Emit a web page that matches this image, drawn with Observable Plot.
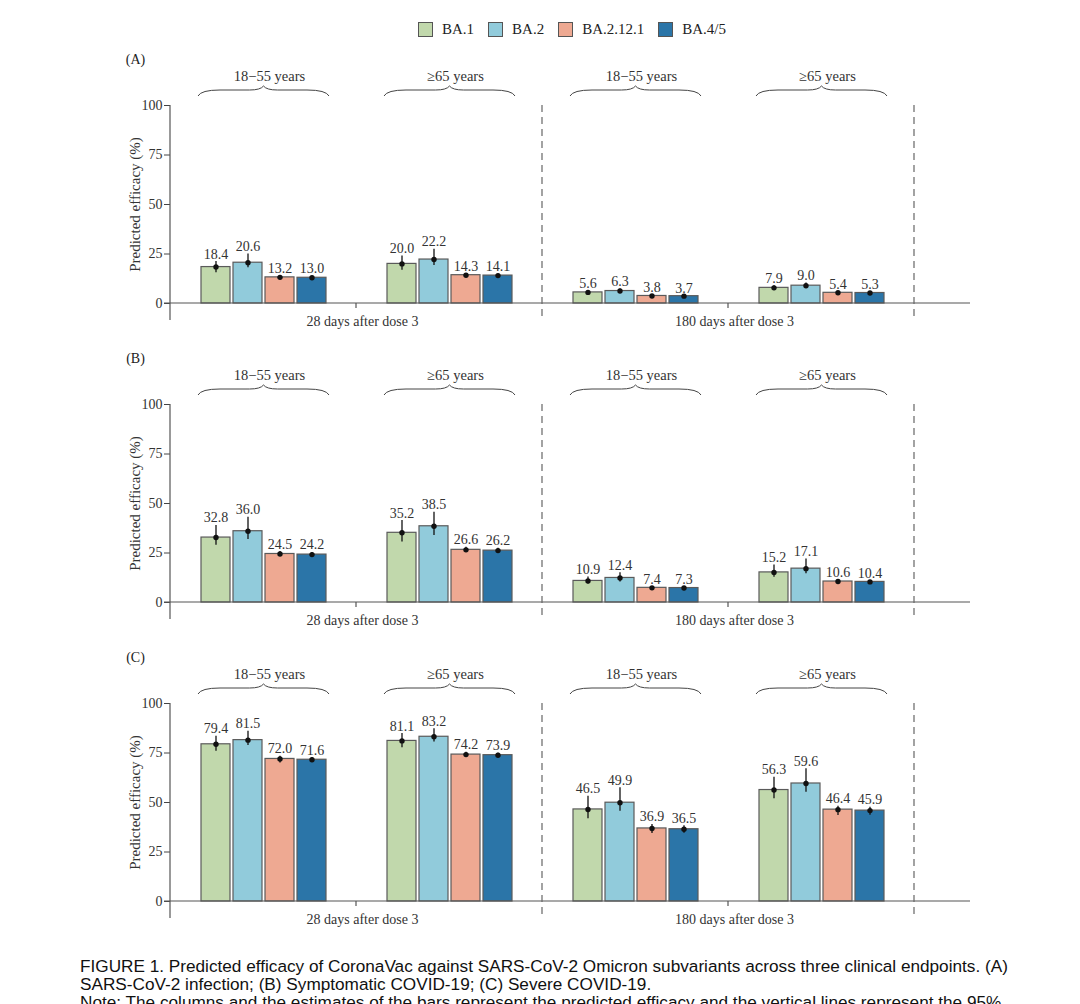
<!DOCTYPE html>
<html>
<head>
<meta charset="utf-8">
<script src="https://cdn.jsdelivr.net/npm/d3@7"></script>
<script src="https://cdn.jsdelivr.net/npm/@observablehq/plot@0.6"></script>
<style>
html,body{margin:0;padding:0;background:#fff;}
body{width:1080px;height:1004px;overflow:hidden;position:relative;font-family:"Liberation Serif","Times New Roman",serif;}
#legend{position:absolute;left:418px;top:21px;display:flex;align-items:center;height:16px;font-size:15px;color:#222;}
.item{display:flex;align-items:center;margin-right:14px;}
.sw{width:15px;height:15px;border:1.2px solid #555;box-sizing:border-box;margin-right:9px;}
#panels{position:absolute;left:0;top:45px;}
#panels svg{display:block;}
#caption{position:absolute;left:80px;top:957px;font-family:"Liberation Sans",Arial,sans-serif;font-size:17.2px;line-height:18px;color:#111;white-space:nowrap;}
</style>
</head>
<body>
<div id="legend"></div>
<div id="panels"></div>
<div id="caption">FIGURE 1. Predicted efficacy of CoronaVac against SARS-CoV-2 Omicron subvariants across three clinical endpoints. (A)<br>SARS-CoV-2 infection; (B) Symptomatic COVID-19; (C) Severe COVID-19.<br>Note: The columns and the estimates of the bars represent the predicted efficacy and the vertical lines represent the 95%</div>
<script>
const variants = ["BA.1", "BA.2", "BA.2.12.1", "BA.4/5"];
const colors = ["#c1d8ac", "#91cbdb", "#eea992", "#2b75a8"];
const timepoints = ["28 days after dose 3", "180 days after dose 3"];
const ages = ["18\u221255 years", "\u226565 years"];
const panelLabels = ["(A)", "(B)", "(C)"];
const yTicks = [0, 25, 50, 75, 100];
const yTitle = "Predicted efficacy (%)";

// group order: 28d 18-55, 28d >=65, 180d 18-55, 180d >=65 ; inner order: variants
const estA = [[18.4, 20.6, 13.2, 13.0], [20.0, 22.2, 14.3, 14.1], [5.6, 6.3, 3.8, 3.7], [7.9, 9.0, 5.4, 5.3]];
const loA  = [[15.5, 18.0, 12.5, 12.3], [16.8, 19.2, 13.6, 13.4], [5.0, 5.5, 3.5, 3.4], [7.0, 8.0, 5.0, 4.9]];
const hiA  = [[21.2, 25.0, 14.0, 13.7], [24.0, 27.4, 15.0, 14.8], [6.3, 7.3, 4.1, 4.0], [9.0, 10.4, 5.8, 5.7]];

const estB = [[32.8, 36.0, 24.5, 24.2], [35.2, 38.5, 26.6, 26.2], [10.9, 12.4, 7.4, 7.3], [15.2, 17.1, 10.6, 10.4]];
const loB  = [[28.9, 31.8, 23.3, 23.1], [30.5, 33.8, 25.3, 25.0], [9.2, 10.3, 6.9, 6.8], [12.8, 14.5, 9.9, 9.7]];
const hiB  = [[38.9, 43.1, 25.7, 25.3], [41.4, 45.6, 27.9, 27.4], [12.9, 15.0, 7.9, 7.8], [19.0, 22.0, 11.3, 11.1]];

const estC = [[79.4, 81.5, 72.0, 71.6], [81.1, 83.2, 74.2, 73.9], [46.5, 49.9, 36.9, 36.5], [56.3, 59.6, 46.4, 45.9]];
const loC  = [[75.9, 78.8, 70.0, 70.5], [77.6, 80.6, 72.9, 72.9], [41.8, 45.6, 34.3, 34.5], [51.9, 55.2, 43.4, 43.6]];
const hiC  = [[83.5, 86.0, 73.4, 72.7], [84.8, 87.2, 75.4, 74.9], [53.2, 57.4, 38.9, 38.3], [62.8, 67.0, 48.1, 47.6]];

const panels = [
  {label: panelLabels[0], est: estA, lo: loA, hi: hiA},
  {label: panelLabels[1], est: estB, lo: loB, hi: hiB},
  {label: panelLabels[2], est: estC, lo: loC, hi: hiC}
];

const groups = [];
timepoints.forEach((tp, i) => ages.forEach((age, j) => groups.push({key: `g${i}${j}`, tp, age})));
const keys = groups.map(g => g.key);

// legend
const legend = d3.select("#legend");
variants.forEach((v, i) => {
  const it = legend.append("div").attr("class", "item");
  it.append("div").attr("class", "sw").style("background", colors[i]);
  it.append("span").text(v);
});

const serif = '"Liberation Serif","Times New Roman",serif';

panels.forEach(p => {
  const rows = groups.flatMap((g, gi) => variants.map((v, vi) => ({
    group: g.key, variant: v, est: p.est[gi][vi], lo: p.lo[gi][vi], hi: p.hi[gi][vi]
  })));
  const plot = Plot.plot({
    width: 1080, height: 299,
    marginLeft: 170, marginRight: 166, marginTop: 60, marginBottom: 41,
    style: {fontFamily: serif, fontSize: "14px", color: "#333", background: "transparent", overflow: "visible"},
    fx: {domain: keys, padding: 0, axis: null, label: null},
    x: {domain: variants, paddingInner: 0.108, paddingOuter: 0.915, axis: null},
    y: {domain: [0, 100], axis: null},
    color: {domain: variants, range: colors},
    marks: [
      Plot.barY(rows, {fx: "group", x: "variant", y: "est", fill: "variant", stroke: "#5a5a5a", strokeWidth: 1.2}),
      Plot.ruleX(rows, {fx: "group", x: "variant", y1: "lo", y2: "hi", stroke: "#111", strokeWidth: 1.3}),
      Plot.dot(rows, {fx: "group", x: "variant", y: "est", r: 2.7, fill: "#111", stroke: null}),
      Plot.text(rows, {fx: "group", x: "variant", y: "hi", text: d => d.est.toFixed(1), lineAnchor: "bottom", dy: -3, fontSize: 14, fill: "#333"}),
      Plot.text(groups, {fx: "key", text: "age", frameAnchor: "top", lineAnchor: "middle", dy: -29, dx: 6, fontSize: 14.5, fill: "#333"}),
      Plot.text(groups.filter(g => g.age === ages[1]), {fx: "key", text: "tp", frameAnchor: "bottom-left", textAnchor: "middle", lineAnchor: "middle", dy: 18, dx: 6, fontSize: 14, fill: "#333"}),
      Plot.text([p.label], {fx: () => keys[0], frameAnchor: "top-left", textAnchor: "middle", lineAnchor: "middle", dx: -35, dy: -46, fontSize: 14, fill: "#222"}),
      Plot.text([yTitle], {fx: () => keys[0], frameAnchor: "left", textAnchor: "middle", lineAnchor: "middle", rotate: -90, dx: -35, fontSize: 15, fill: "#333"}),
      Plot.axisY({ticks: yTicks, tickSize: 6, tickPadding: 2, label: null, fontSize: 14, stroke: "#444"})
    ]
  });
  const fxs = plot.scale("fx"), ys = plot.scale("y");
  const bw = fxs.bandwidth;
  const X = k => fxs.apply(k);
  const y0 = ys.apply(0), y100 = ys.apply(100);
  const svg = d3.select(plot);
  const g = svg.append("g").attr("fill", "none").attr("stroke", "#555").attr("stroke-width", 1.2);
  g.append("line").attr("x1", X(keys[0]) - 6).attr("x2", X(keys[3]) + bw + 56).attr("y1", y0).attr("y2", y0);
  g.append("line").attr("x1", X(keys[0])).attr("x2", X(keys[0])).attr("y1", y100).attr("y2", y0 + 17);
  [X(keys[2]), X(keys[3]) + bw].forEach(x => {
    g.append("line").attr("x1", x).attr("x2", x).attr("y1", y100).attr("y2", y0 + 17)
      .attr("stroke", "#666").attr("stroke-dasharray", "7,5");
  });
  [X(keys[1]), X(keys[3])].forEach(x => {
    g.append("line").attr("x1", x).attr("x2", x).attr("y1", y0).attr("y2", y0 + 5);
  });
  keys.forEach(k => {
    const x0 = X(k) + 28, x1 = X(k) + bw - 27, xc = (x0 + x1) / 2;
    const yb = y100 - 9, ym = y100 - 15, yt = y100 - 19;
    const path = `M${x0},${yb} Q${x0 + 3},${ym} ${x0 + 22},${ym} L${xc - 14},${ym} Q${xc - 3},${ym} ${xc},${yt} Q${xc + 3},${ym} ${xc + 14},${ym} L${x1 - 22},${ym} Q${x1 - 3},${ym} ${x1},${yb}`;
    g.append("path").attr("d", path).attr("stroke", "#444").attr("stroke-width", 1);
  });
  document.getElementById("panels").appendChild(plot);
});
</script>
</body>
</html>
